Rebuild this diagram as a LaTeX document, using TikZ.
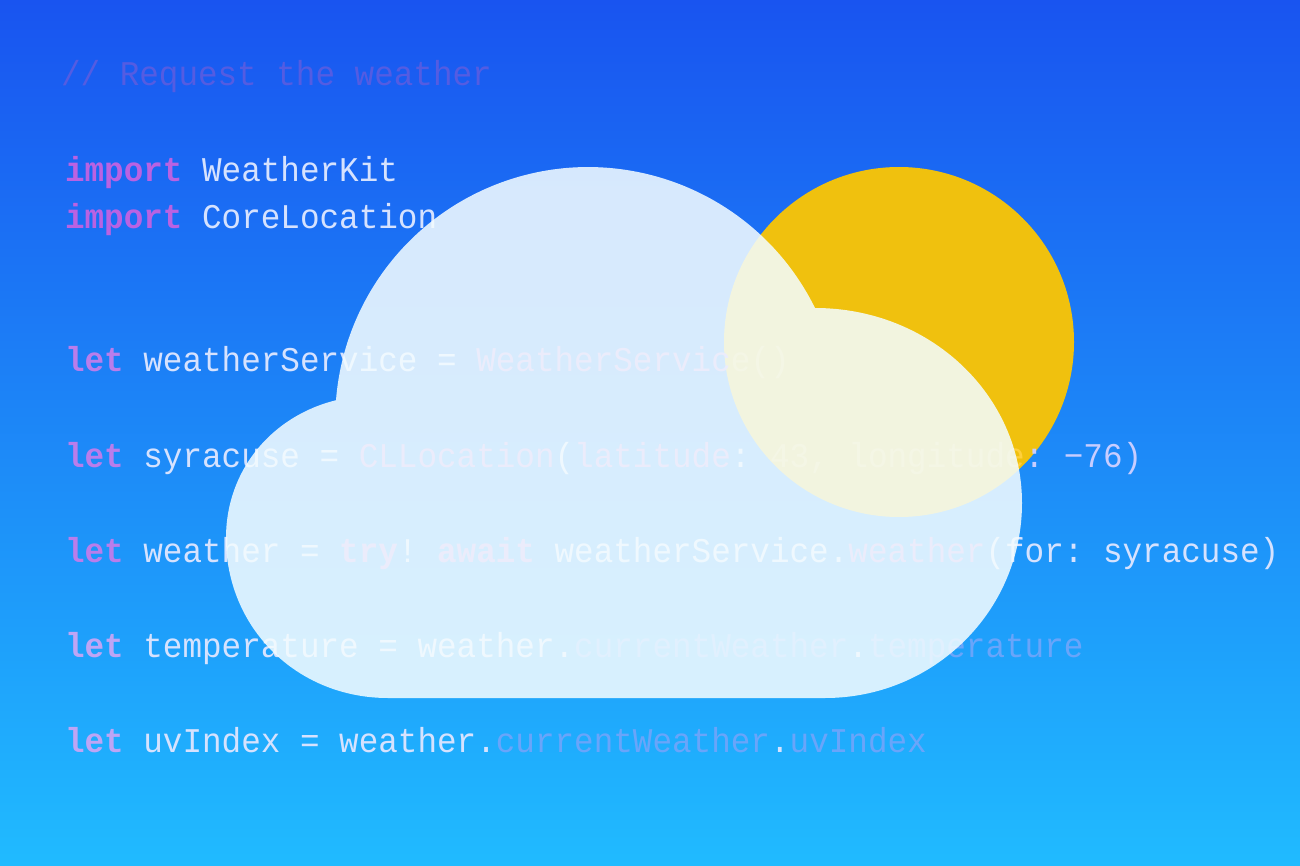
\documentclass[tikz,border=0pt]{standalone}
\usepackage{fontspec}
\setmonofont[FakeStretch=0.9415]{Liberation Mono}
\definecolor{bgtop}{RGB}{25,84,240}
\definecolor{bgbot}{RGB}{32,187,255}
\definecolor{sunc}{RGB}{240,193,14}
\definecolor{cloudc}{RGB}{243,252,255}
\definecolor{cwhite}{RGB}{214,226,254}
\definecolor{comm}{RGB}{84,92,226}
\definecolor{kwa}{RGB}{186,98,226}
\definecolor{kwb}{RGB}{186,125,235}
\definecolor{kwc}{RGB}{190,165,245}
\definecolor{fna}{RGB}{185,135,225}
\definecolor{fnb}{RGB}{105,165,250}
\definecolor{warm}{RGB}{255,208,60}
\definecolor{lav}{RGB}{200,205,255}
\tikzset{
  codeline/.style={anchor=base west,inner sep=0pt,outer sep=0pt,font=\ttfamily\fontsize{26}{30}\selectfont,text=cwhite},
}
\newcommand{\kw}[2]{\textcolor{#1}{\bfseries #2}}
\begin{document}
\begin{tikzpicture}[x=0.75pt,y=-0.75pt]
\useasboundingbox (0,0) rectangle (1300,866);
\shade[top color=bgtop,bottom color=bgbot] (0,0) rectangle (1300,866);
\fill[sunc] (899,342) circle[radius=175];
\node[codeline,text=comm] (comment) at (61,86) {//~Request the weather};
\node[codeline] (imp1) at (65,182) {\kw{kwa}{import} WeatherKit};
\node[codeline] (imp2) at (65,229) {\kw{kwa}{import} CoreLocation};
\node[codeline] (svc) at (65,372) {\kw{kwb}{let} weatherService = \textcolor{fna}{WeatherServic}\textcolor{warm}{e()}};
\node[codeline] (syr) at (65,467) {\kw{kwb}{let} syracuse = \textcolor{fna}{CLLocation}(\textcolor{fna}{latitude}: \textcolor{warm}{43, longitude}\textcolor{lav}{: −76)}};
\node[codeline] (wea) at (65,562) {\kw{kwb}{let} weather = \kw{fna}{try}! \kw{fna}{await} weatherService.\textcolor{fna}{weather}(for: syracuse)};
\node[codeline] (tmp) at (65,657) {\kw{kwc}{let} temperature = weather.\textcolor{fnb}{currentWeather}.\textcolor{fnb}{temperature}};
\node[codeline] (uvi) at (65,752) {\kw{kwc}{let} uvIndex = weather.\textcolor{fnb}{currentWeather}.\textcolor{fnb}{uvIndex}};
\fill[cloudc,opacity=0.87] (388,698) -- (825,698)
  .. controls (934,698) and (1022,611) .. (1022,503)
  .. controls (1022,395) and (930,308) .. (815,308)
  arc[start angle=-26.3,end angle=-175.5,radius=253]
  .. controls (272,416) and (226,470) .. (226,538)
  .. controls (226,628) and (297,698) .. (388,698) -- cycle;
\end{tikzpicture}
\end{document}
